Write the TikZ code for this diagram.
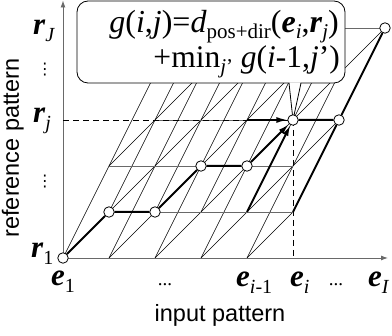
\documentclass[tikz,border=0pt]{standalone}
\usepackage{fontspec}
\setmainfont{Liberation Serif}
\setsansfont{Liberation Sans}
\newfontfamily\dejavu{DejaVu Sans}
\usetikzlibrary{arrows.meta}
\definecolor{rowgray}{RGB}{105,105,105}
\newcommand{\bi}[1]{\textbf{\textit{#1}}}
\newcommand{\sbs}[1]{\raisebox{-0.2em}{\fontsize{20}{20}\selectfont #1}}
\newcommand{\sbsf}[1]{\raisebox{-0.18em}{\fontsize{21}{21}\selectfont #1}}
\begin{document}
\begin{tikzpicture}[x=1pt,y=-1pt,
  gridln/.style={line width=0.55pt,black},
  rowln/.style={line width=0.9pt,rowgray},
  axisln/.style={line width=0.9pt,rowgray},
  dashln/.style={line width=0.7pt,black,dash pattern=on 6pt off 4pt},
  pathln/.style={line width=2pt,black},
  ptc/.style={circle,draw,fill=white,inner sep=0pt,minimum size=10.5pt,line width=0.8pt},
  lbl/.style={inner sep=0pt,font=\fontsize{31}{31}\selectfont},
  sanslbl/.style={inner sep=0pt,font=\sffamily\fontsize{23.5}{23.5}\selectfont},
  tip/.style={-{Latex[length=11pt,width=6pt]}}]
\useasboundingbox (0,0) rectangle (392,336);
\foreach \i in {1,...,8}{\foreach \j in {1,...,6}{\coordinate (p\i\j) at ({63+46*(\i-1)},{258-46*(\j-1)});}}
% diagonal edges
\foreach \a/\b in {11/22,21/32,22/33,23/34,31/42,32/43,33/44,34/45,35/46,41/52,42/53,43/54,44/55,45/56,51/62,52/63,53/64,54/65,55/66,63/74,64/75,65/76,75/86}
  \draw[gridln] (p\a) -- (p\b);
% steep edges
\foreach \a/\b in {11/23,21/33,22/34,23/35,31/43,32/44,33/45,34/46,41/53,42/54,43/55,44/56,51/63,52/64,53/65,54/66,62/74,63/75,64/76,74/86}
  \draw[gridln] (p\a) -- (p\b);
% rows
\foreach \a/\b in {22/62,23/63,34/74,35/75,46/86}
  \draw[rowln] (p\a) -- (p\b);
% axes
\coordinate (xend) at (388,258);
\coordinate (yend) at (63,0.5);
\draw[axisln,-{Latex[length=7pt,width=5pt]}] (p11) -- (xend);
\draw[axisln,-{Latex[length=7pt,width=5pt]}] (p11) -- (yend);
% dashed guides
\coordinate (ryj) at (63,120);
\coordinate (exi) at (293,258);
\draw[dashln] (ryj) -- (p64);
\draw[dashln] (p64) -- (exi);
% callout box
\filldraw[fill=white,line width=0.8pt,rounded corners=11pt] (77,1) rectangle (345,83);
\coordinate (ptl) at (289,83);
\coordinate (ptr) at (301,83);
\fill[white] (289.4,82.3) -- (300.6,82.3) -- (p64) -- cycle;
\draw[line width=0.8pt] (ptl) -- (p64) (ptr) -- (p64);
\node[anchor=base east,inner sep=0pt,font=\fontsize{32}{32}\selectfont] (f1) at (339,33)
  {\textit{g}(\textit{i},\textit{j})=\textit{d}\sbsf{pos+dir}(\bi{e}\sbsf{\textit{i}},\bi{r}\sbsf{\textit{j}})};
\node[anchor=base east,inner sep=0pt,font=\fontsize{31.5}{31.5}\selectfont] (f2) at (340,68)
  {+min\sbsf{\textit{j}’} \textit{g}(\textit{i}-1,\textit{j}’)};
% path points
\foreach \n/\p in {1/11,2/22,3/32,4/43,5/53,6/64,7/74,8/86}
  \node[ptc] (c\n) at (p\p) {};
% thick path and arrows
\draw[pathln] (c1) -- (c2) -- (c3) -- (c4) -- (c5);
\draw[pathln] (c6) -- (c7) -- (c8);
\draw[pathln] (p62) -- (c7);
\draw[pathln,tip] (c5) -- (c6);
\draw[pathln,tip] (p52) -- (c6);
\draw[line width=1.5pt,tip] (p54) -- (c6);
% labels
\node[lbl,anchor=base west] (rJ) at (33,35) {\bi{r}\sbs{\textit{J}}};
\node[lbl,anchor=base west] (rj) at (33,123) {\bi{r}\sbs{\textit{j}}};
\node[lbl,anchor=base west] (r1) at (31,258) {\bi{r}\sbs{1}};
\node[lbl,anchor=base west] (e1) at (51,286) {\bi{e}\sbs{1}};
\node[lbl,anchor=base west] (eim) at (236,287) {\bi{e}\sbs{\textit{i}-1}};
\node[lbl,anchor=base west] (ei) at (290,287) {\bi{e}\sbs{\textit{i}}};
\node[lbl,anchor=base west] (eI) at (368,287) {\bi{e}\sbs{\textit{I}}};
\node[inner sep=0pt,anchor=base,font=\fontsize{19}{19}\selectfont] (hd1) at (165,286) {...};
\node[inner sep=0pt,anchor=base,font=\fontsize{19}{19}\selectfont] (hd2) at (336,286) {...};
\node[inner sep=0pt,font=\dejavu\fontsize{16}{16}\selectfont] (vd1) at (45,70) {⋮};
\node[inner sep=0pt,font=\dejavu\fontsize{16}{16}\selectfont] (vd2) at (45,182) {⋮};
\node[sanslbl,anchor=base] (xl) at (220,322) {input pattern};
\node[sanslbl,rotate=90,anchor=base] (yl) at (19,148) {reference pattern};
\end{tikzpicture}
\end{document}
